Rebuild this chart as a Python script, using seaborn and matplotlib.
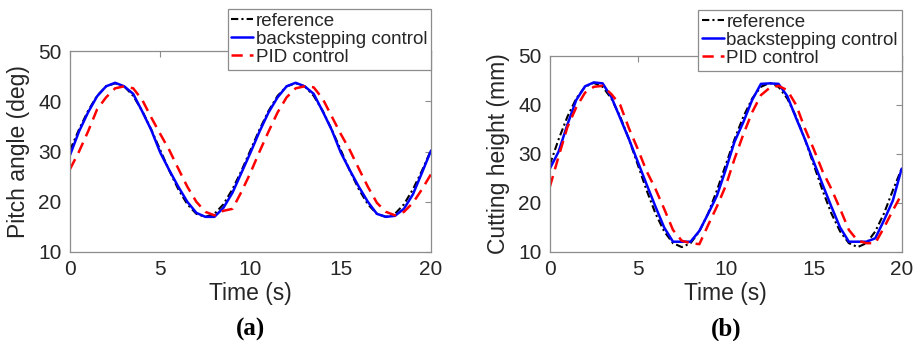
import matplotlib
matplotlib.use('Agg')
import matplotlib.pyplot as plt
import numpy as np
import pandas as pd
import seaborn as sns

# ── data (0.5 s sampling) ────────────────────────────────────
time_s = [i * 0.5 for i in range(41)]

pitch_ref = [30.3, 34.4, 38.1, 41.1, 43.0, 43.6, 43.0, 41.1, 38.1, 34.4,
             30.3, 26.2, 22.5, 19.5, 17.6, 17.0, 17.6, 19.5, 22.5, 26.2,
             30.3, 34.4, 38.1, 41.1, 43.0, 43.6, 43.0, 41.1, 38.1, 34.4,
             30.3, 26.2, 22.5, 19.5, 17.6, 17.0, 17.6, 19.5, 22.5, 26.2, 30.3]
pitch_bs = [29.3, 34.0, 37.8, 41.0, 43.0, 43.7, 43.0, 41.5, 38.0, 34.3,
            29.8, 26.3, 23.0, 20.0, 17.8, 17.0, 17.0, 18.8, 21.8, 25.8,
            29.8, 34.0, 37.8, 40.8, 43.0, 43.7, 43.0, 41.5, 38.0, 34.3,
            29.8, 26.3, 23.0, 20.0, 17.6, 17.0, 17.2, 18.6, 21.5, 25.8, 30.2]
pitch_pid = [26.5, 30.0, 34.0, 38.4, 40.8, 42.6, 43.0, 42.6, 40.3, 36.8,
             33.5, 30.3, 26.6, 23.0, 20.0, 18.0, 17.3, 18.2, 18.6, 22.0,
             25.8, 30.0, 34.0, 37.8, 40.8, 42.6, 43.0, 42.8, 40.5, 37.0,
             33.5, 30.3, 26.6, 23.0, 19.8, 18.0, 17.3, 18.0, 19.8, 22.5, 25.5]

height_ref = [27.8, 33.0, 37.6, 41.3, 43.7, 44.5, 43.7, 41.3, 37.6, 33.0,
              27.8, 22.6, 17.9, 14.2, 11.8, 11.0, 11.8, 14.2, 17.9, 22.6,
              27.8, 33.0, 37.6, 41.3, 43.7, 44.5, 43.7, 41.3, 37.6, 33.0,
              27.8, 22.6, 17.9, 14.2, 11.8, 11.0, 11.8, 14.2, 17.9, 22.6, 27.0]
height_bs = [27.0, 30.5, 36.0, 41.0, 43.8, 44.6, 44.4, 41.6, 37.3, 33.0,
             28.4, 23.8, 19.3, 15.0, 12.1, 12.1, 12.1, 14.3, 17.8, 21.5,
             26.8, 32.5, 36.5, 41.0, 44.3, 44.4, 44.3, 41.8, 37.3, 33.0,
             28.4, 23.8, 19.3, 15.0, 12.1, 12.1, 12.1, 12.8, 16.5, 20.5, 27.0]
height_pid = [23.3, 29.5, 35.5, 39.5, 42.5, 43.7, 43.9, 42.2, 40.0, 35.2,
              31.0, 26.5, 22.9, 18.8, 14.5, 12.3, 11.8, 11.6, 15.5, 19.3,
              23.5, 29.0, 34.0, 38.5, 42.0, 43.5, 43.9, 43.0, 40.0, 35.2,
              31.0, 26.5, 22.9, 18.8, 14.5, 12.3, 11.8, 11.8, 15.0, 18.5, 21.8]

series_labels = ['reference', 'backstepping control', 'PID control']
panels = [
    ('Pitch angle (deg)', '(a)', [pitch_ref, pitch_bs, pitch_pid]),
    ('Cutting height (mm)', '(b)', [height_ref, height_bs, height_pid]),
]

# ── style ────────────────────────────────────────────────────
sns.set_theme(style='white')
plt.rcParams['font.family'] = ['Liberation Sans', 'DejaVu Sans']
plt.rcParams['text.color'] = '#262626'
plt.rcParams['axes.labelcolor'] = '#262626'

line_styles = [
    dict(color='black', linestyle=(0, (3.5, 1.5, 1, 1.5)), linewidth=1.5),
    dict(color='#0000FF', linestyle='-', linewidth=1.8),
    dict(color='#FF0000', linestyle=(0, (4.5, 2.8)), linewidth=1.8),
]

fig = plt.figure(figsize=(9.21, 3.41), dpi=100)
ax_rects = [[0.076, 0.261, 0.392, 0.589], [0.597, 0.261, 0.382, 0.575]]
legend_anchor = [(0.468, 0.974), (0.979, 0.971)]

for rect, anchor, (ylabel, tag, ys) in zip(ax_rects, legend_anchor, panels):
    ax = fig.add_axes(rect)
    for lab, y, st in zip(series_labels, ys, line_styles):
        sns.lineplot(x=time_s, y=y, ax=ax, label=lab, **st)
    ax.set_xlim(0, 20); ax.set_ylim(10, 50)
    ax.set_xticks([0, 5, 10, 15, 20]); ax.set_yticks([10, 20, 30, 40, 50])
    ax.tick_params(direction='in', length=4, width=0.8, color='#8c8c8c',
                   labelsize=15, labelcolor='#262626', top=True, right=True,
                   pad=6)
    for sp in ax.spines.values():
        sp.set_color('#8c8c8c'); sp.set_linewidth(0.9)
    ax.set_xlabel('Time (s)', fontsize=16.5, labelpad=2)
    ax.set_ylabel(ylabel, fontsize=16.5, labelpad=6)
    leg = ax.legend(loc='upper right', bbox_to_anchor=anchor,
                    bbox_transform=fig.transFigure, fontsize=13.5,
                    frameon=True, fancybox=False, framealpha=1,
                    edgecolor='#8c8c8c', handlelength=1.15, handletextpad=0.15,
                    labelspacing=0.05, borderpad=0.2, borderaxespad=0)
    leg.get_frame().set_linewidth(0.9)
    cx = rect[0] + rect[2] / 2
    fig.text(cx, 0.035, tag, ha='center', va='center', fontsize=18,
             fontweight='bold', family=['Liberation Serif', 'DejaVu Serif'],
             color='black')

plt.savefig('out.png', dpi=100)
plt.close()
